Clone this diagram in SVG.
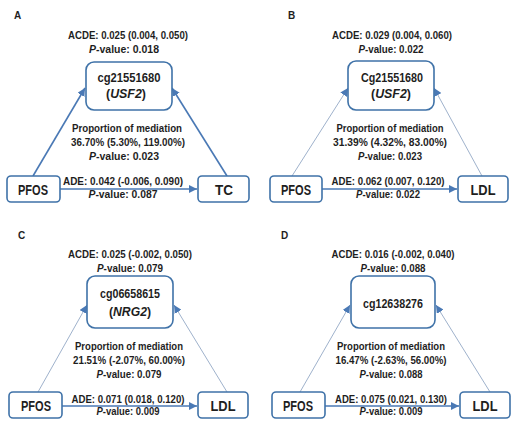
<svg xmlns="http://www.w3.org/2000/svg" width="521" height="424" viewBox="0 0 521 424">
<style>
.bg{fill:#ffffff}
.box{fill:#ffffff;stroke:#3f72a8;stroke-width:1.6}
.t{font-family:"Liberation Sans",Arial,sans-serif;font-weight:bold;font-size:11px;fill:#1e1e1e;text-anchor:middle}
.n{font-family:"Liberation Sans",Arial,sans-serif;font-weight:bold;font-size:13px;fill:#1e1e1e;text-anchor:middle}
.nb{font-family:"Liberation Sans",Arial,sans-serif;font-weight:bold;font-size:14px;fill:#1e1e1e;text-anchor:middle}
.lab{font-family:"Liberation Sans",Arial,sans-serif;font-weight:bold;font-size:10px;fill:#1e1e1e}
.i{font-style:italic}
.thick{stroke:#4a79b5;stroke-width:1.6;fill:none}
.thin{stroke:#9fb2cc;stroke-width:1;fill:none}
</style>
<defs>
<marker id="ah" markerUnits="userSpaceOnUse" markerWidth="9" markerHeight="8" refX="8" refY="4" orient="auto">
<path d="M0,0 L8,4 L0,8 z" fill="#4a79b5"/>
</marker>
</defs>
<rect class="bg" x="0" y="0" width="521" height="424"/>

<!-- Panel labels -->
<text class="lab" x="14" y="19">A</text>
<text class="lab" x="288" y="19">B</text>
<text class="lab" x="18" y="239">C</text>
<text class="lab" x="281" y="239">D</text>

<g id="connectors">
<!-- A -->
<line class="thick" x1="60" y1="189" x2="197" y2="189" marker-end="url(#ah)"/>
<line class="thick" x1="33" y1="176" x2="85" y2="88" marker-end="url(#ah)"/>
<line class="thick" x1="227" y1="176" x2="172" y2="88" marker-end="url(#ah)"/>
<!-- B -->
<line class="thick" x1="322" y1="189" x2="457" y2="189" marker-end="url(#ah)"/>
<line class="thin" x1="292" y1="176" x2="348" y2="88" marker-end="url(#ah)"/>
<line class="thin" x1="482" y1="176" x2="434" y2="88" marker-end="url(#ah)"/>
<!-- C -->
<line class="thick" x1="62" y1="406" x2="197" y2="406" marker-end="url(#ah)"/>
<line class="thin" x1="38" y1="392" x2="87" y2="305" marker-end="url(#ah)"/>
<line class="thin" x1="227" y1="392" x2="174" y2="305" marker-end="url(#ah)"/>
<!-- D -->
<line class="thick" x1="325" y1="406" x2="459" y2="406" marker-end="url(#ah)"/>
<line class="thin" x1="300" y1="392" x2="350" y2="305" marker-end="url(#ah)"/>
<line class="thin" x1="490" y1="392" x2="436" y2="305" marker-end="url(#ah)"/>
</g>

<!-- Panel A texts -->
<g id="A-labels">
<text class="t" x="128" y="39" textLength="120" lengthAdjust="spacingAndGlyphs">ACDE: 0.025 (0.004, 0.050)</text>
<text class="t" x="124" y="53" textLength="70" lengthAdjust="spacingAndGlyphs"><tspan class="i">P</tspan>-value: 0.018</text>
<text class="t" x="127" y="132" textLength="110" lengthAdjust="spacingAndGlyphs">Proportion of mediation</text>
<text class="t" x="128" y="146" textLength="114" lengthAdjust="spacingAndGlyphs">36.70% (5.30%, 119.00%)</text>
<text class="t" x="124" y="160" textLength="70" lengthAdjust="spacingAndGlyphs"><tspan class="i">P</tspan>-value: 0.023</text>
<text class="t" x="123" y="185" textLength="120" lengthAdjust="spacingAndGlyphs">ADE: 0.042 (-0.006, 0.090)</text>
<text class="t" x="123" y="198" textLength="69" lengthAdjust="spacingAndGlyphs"><tspan class="i">P</tspan>-value: 0.087</text>
</g>
<g id="A-med">
<rect class="box" x="86" y="62" width="86" height="48" rx="8"/>
<text class="n" x="129" y="82" textLength="63" lengthAdjust="spacingAndGlyphs">cg21551680</text>
<text class="n" x="126" y="98" textLength="40" lengthAdjust="spacingAndGlyphs">(<tspan class="i">USF2</tspan>)</text>
</g>
<g id="A-pfos">
<rect class="box" x="7" y="176" width="53" height="26" rx="4"/>
<text class="nb" x="33" y="195" textLength="30" lengthAdjust="spacingAndGlyphs">PFOS</text>
</g>
<g id="A-tc">
<rect class="box" x="198" y="176" width="51" height="26" rx="4"/>
<text class="nb" x="224" y="195" textLength="18" lengthAdjust="spacingAndGlyphs">TC</text>
</g>

<!-- Panel B -->
<g id="B-labels">
<text class="t" x="392" y="39" textLength="120" lengthAdjust="spacingAndGlyphs">ACDE: 0.029 (0.004, 0.060)</text>
<text class="t" x="391" y="53" textLength="65" lengthAdjust="spacingAndGlyphs"><tspan class="i">P</tspan>-value: 0.022</text>
<text class="t" x="390" y="132" textLength="107" lengthAdjust="spacingAndGlyphs">Proportion of mediation</text>
<text class="t" x="390" y="146" textLength="114" lengthAdjust="spacingAndGlyphs">31.39% (4.32%, 83.00%)</text>
<text class="t" x="390" y="160" textLength="64" lengthAdjust="spacingAndGlyphs"><tspan class="i">P</tspan>-value: 0.023</text>
<text class="t" x="388" y="185" textLength="113" lengthAdjust="spacingAndGlyphs">ADE: 0.062 (0.007, 0.120)</text>
<text class="t" x="388" y="198" textLength="64" lengthAdjust="spacingAndGlyphs"><tspan class="i">P</tspan>-value: 0.022</text>
</g>
<g id="B-med">
<rect class="box" x="348" y="61" width="86" height="49" rx="8"/>
<text class="n" x="392" y="82" textLength="62" lengthAdjust="spacingAndGlyphs">Cg21551680</text>
<text class="n" x="391" y="98" textLength="40" lengthAdjust="spacingAndGlyphs">(<tspan class="i">USF2</tspan>)</text>
</g>
<g id="B-pfos">
<rect class="box" x="270" y="176" width="52" height="26" rx="4"/>
<text class="nb" x="296" y="195" textLength="30" lengthAdjust="spacingAndGlyphs">PFOS</text>
</g>
<g id="B-ldl">
<rect class="box" x="458" y="176" width="50" height="26" rx="4"/>
<text class="nb" x="483" y="195" textLength="25" lengthAdjust="spacingAndGlyphs">LDL</text>
</g>

<!-- Panel C -->
<g id="C-labels">
<text class="t" x="130" y="258" textLength="124" lengthAdjust="spacingAndGlyphs">ACDE: 0.025 (-0.002, 0.050)</text>
<text class="t" x="130" y="272" textLength="66" lengthAdjust="spacingAndGlyphs"><tspan class="i">P</tspan>-value: 0.079</text>
<text class="t" x="129" y="350" textLength="108" lengthAdjust="spacingAndGlyphs">Proportion of mediation</text>
<text class="t" x="129" y="364" textLength="112" lengthAdjust="spacingAndGlyphs">21.51% (-2.07%, 60.00%)</text>
<text class="t" x="129" y="378" textLength="65" lengthAdjust="spacingAndGlyphs"><tspan class="i">P</tspan>-value: 0.079</text>
<text class="t" x="128" y="403" textLength="113" lengthAdjust="spacingAndGlyphs">ADE: 0.071 (0.018, 0.120)</text>
<text class="t" x="128" y="415" textLength="63" lengthAdjust="spacingAndGlyphs"><tspan class="i">P</tspan>-value: 0.009</text>
</g>
<g id="C-med">
<rect class="box" x="87" y="276" width="86" height="52" rx="8"/>
<text class="n" x="130" y="298" textLength="60" lengthAdjust="spacingAndGlyphs">cg06658615</text>
<text class="n" x="130" y="316" style="font-size:12px" textLength="42" lengthAdjust="spacingAndGlyphs">(<tspan class="i">NRG2</tspan>)</text>
</g>
<g id="C-pfos">
<rect class="box" x="9" y="392" width="53" height="26" rx="4"/>
<text class="nb" x="36" y="411" textLength="30" lengthAdjust="spacingAndGlyphs">PFOS</text>
</g>
<g id="C-ldl">
<rect class="box" x="198" y="392" width="50" height="26" rx="4"/>
<text class="nb" x="223" y="411" textLength="25" lengthAdjust="spacingAndGlyphs">LDL</text>
</g>

<!-- Panel D -->
<g id="D-labels">
<text class="t" x="393" y="258" textLength="123" lengthAdjust="spacingAndGlyphs">ACDE: 0.016 (-0.002, 0.040)</text>
<text class="t" x="393" y="272" textLength="65" lengthAdjust="spacingAndGlyphs"><tspan class="i">P</tspan>-value: 0.088</text>
<text class="t" x="391" y="350" textLength="108" lengthAdjust="spacingAndGlyphs">Proportion of mediation</text>
<text class="t" x="391" y="364" textLength="111" lengthAdjust="spacingAndGlyphs">16.47% (-2.63%, 56.00%)</text>
<text class="t" x="391" y="378" textLength="63" lengthAdjust="spacingAndGlyphs"><tspan class="i">P</tspan>-value: 0.088</text>
<text class="t" x="391" y="403" textLength="112" lengthAdjust="spacingAndGlyphs">ADE: 0.075 (0.021, 0.130)</text>
<text class="t" x="391" y="415" textLength="63" lengthAdjust="spacingAndGlyphs"><tspan class="i">P</tspan>-value: 0.009</text>
</g>
<g id="D-med">
<rect class="box" x="351" y="276" width="84" height="52" rx="8"/>
<text class="n" x="393" y="308" textLength="60" lengthAdjust="spacingAndGlyphs">cg12638276</text>
</g>
<g id="D-pfos">
<rect class="box" x="272" y="392" width="53" height="26" rx="4"/>
<text class="nb" x="298" y="411" textLength="30" lengthAdjust="spacingAndGlyphs">PFOS</text>
</g>
<g id="D-ldl">
<rect class="box" x="460" y="392" width="50" height="26" rx="4"/>
<text class="nb" x="485" y="411" textLength="25" lengthAdjust="spacingAndGlyphs">LDL</text>
</g>
</svg>
